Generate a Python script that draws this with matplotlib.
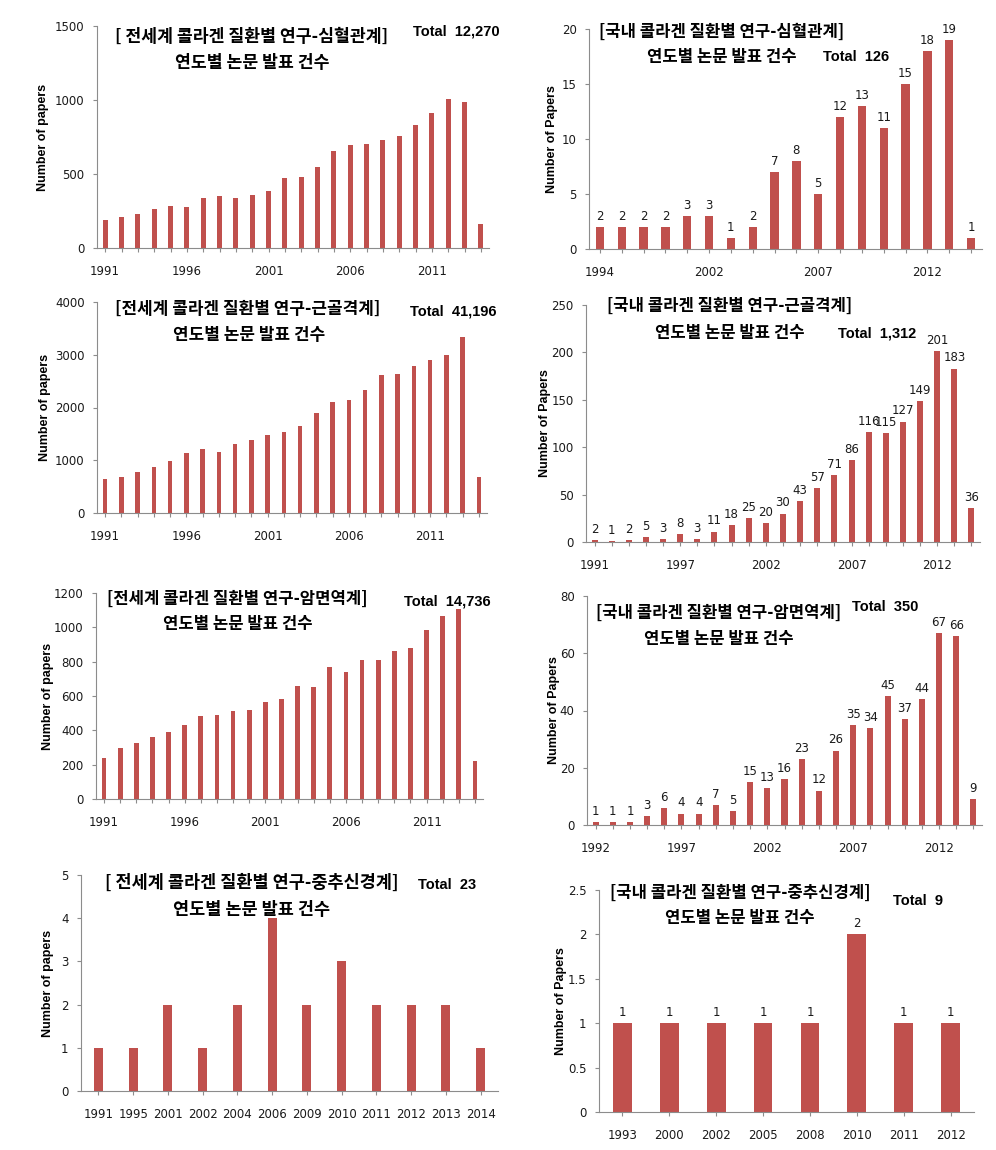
import numpy as np
import matplotlib
matplotlib.use('Agg')
import matplotlib.pyplot as plt
from matplotlib.ticker import FuncFormatter

plt.rcParams['font.family'] = ['DejaVu Sans']
KR = ['Noto Sans CJK KR', 'DejaVu Sans']
BAR = '#C0504D'
AXC = '#8C8C8C'

# ---- data ----
ww_years = ['1991', '1992', '1993', '1994', '1995', '1996', '1997', '1998', '1999', '2000',
            '2001', '2002', '2003', '2004', '2005', '2006', '2007', '2008', '2009', '2010',
            '2011', '2012', '2013', '2014']

cardio_world = [191, 211, 229, 263, 281, 279, 335, 348, 335, 360, 387, 472,
                481, 544, 656, 694, 706, 728, 757, 834, 910, 1005, 985, 160]
cardio_kr_years = ['1994', '1995', '1997', '1999', '2000', '2002', '2003', '2004', '2005',
                   '2006', '2007', '2008', '2009', '2010', '2011', '2012', '2013', '2014']
cardio_kr = [2, 2, 2, 2, 3, 3, 1, 2, 7, 8, 5, 12, 13, 11, 15, 18, 19, 1]

musc_world = [643, 687, 781, 876, 983, 1140, 1216, 1159, 1304, 1386, 1474, 1531,
              1644, 1896, 2104, 2142, 2331, 2614, 2627, 2778, 2898, 2986, 3332, 687]
musc_kr_years = ['1991', '1992', '1993', '1995', '1996', '1997', '1998', '1999', '2000',
                 '2001', '2002', '2003', '2004', '2005', '2006', '2007', '2008', '2009',
                 '2010', '2011', '2012', '2013', '2014']
musc_kr = [2, 1, 2, 5, 3, 8, 3, 11, 18, 25, 20, 30, 43, 57, 71, 86, 116, 115,
           127, 149, 201, 183, 36]

immu_world = [237, 297, 324, 363, 388, 429, 482, 487, 513, 517, 563, 581,
              658, 654, 767, 738, 808, 812, 860, 878, 983, 1064, 1105, 219]
immu_kr_years = ['1992', '1993', '1994', '1995', '1996', '1997', '1998', '1999', '2000',
                 '2001', '2002', '2003', '2004', '2005', '2006', '2007', '2008', '2009',
                 '2010', '2011', '2012', '2013', '2014']
immu_kr = [1, 1, 1, 3, 6, 4, 4, 7, 5, 15, 13, 16, 23, 12, 26, 35, 34, 45,
           37, 44, 67, 66, 9]

cns_world_years = ['1991', '1995', '2001', '2002', '2004', '2006', '2009', '2010',
                   '2011', '2012', '2013', '2014']
cns_world = [1, 1, 2, 1, 2, 4, 2, 3, 2, 2, 2, 1]
cns_kr_years = ['1993', '2000', '2002', '2005', '2008', '2010', '2011', '2012']
cns_kr = [1, 1, 1, 1, 1, 2, 1, 1]

titles = ['[ 전세계 콜라겐 질환별 연구-심혈관계]', '[국내 콜라겐 질환별 연구-심혈관계]',
          '[전세계 콜라겐 질환별 연구-근골격계]', '[국내 콜라겐 질환별 연구-근골격계]',
          '[전세계 콜라겐 질환별 연구-암면역계]', '[국내 콜라겐 질환별 연구-암면역계]',
          '[ 전세계 콜라겐 질환별 연구-중추신경계]', '[국내 콜라겐 질환별 연구-중추신경계]']
subtitle = '연도별 논문 발표 건수'
totals = ['Total  12,270', 'Total  126', 'Total  41,196', 'Total  1,312',
          'Total  14,736', 'Total  350', 'Total  23', 'Total  9']

W, H = 996, 1150
fig = plt.figure(figsize=(W / 100, H / 100), dpi=100)


def ftxt(x, y, s, **kw):
    fig.text(x / W, 1 - y / H, s, ha='center', va='center', **kw)


def panel(rect, cats, vals, ymax, ystep, width, ylab, ylab_x, every, labels=False):
    l, r, t, b = rect
    ax = fig.add_axes([l / W, 1 - b / H, (r - l) / W, (b - t) / H])
    x = np.arange(len(cats))
    ax.bar(x, vals, width=width, color=BAR)
    ax.set_xlim(-0.5, len(cats) - 0.5)
    ax.set_ylim(0, ymax)
    ax.set_yticks(np.arange(0, ymax + ystep / 2, ystep))
    ax.yaxis.set_major_formatter(FuncFormatter(lambda v, p: f'{v:g}'))
    ax.set_xticks(x)
    ax.set_xticklabels([c if i % every == 0 else '' for i, c in enumerate(cats)])
    for s in ['top', 'right']:
        ax.spines[s].set_visible(False)
    for s in ['left', 'bottom']:
        ax.spines[s].set_color(AXC)
        ax.spines[s].set_linewidth(0.8)
    ax.tick_params(colors=AXC, labelcolor='#1a1a1a', labelsize=8.5, length=3, width=0.8)
    ax.tick_params(axis='x', pad=9)
    ax.tick_params(axis='y', pad=6)
    ax.set_ylabel(ylab, fontweight='bold', fontsize=9, family='Liberation Sans', va='center')
    ax.yaxis.set_label_coords((ylab_x - l) / (r - l), 0.5)
    if labels:
        for xi, v in zip(x, vals):
            ax.annotate(str(v), (xi, v), xytext=(0, 3), textcoords='offset points',
                        ha='center', va='bottom', fontsize=8.5, color='#1a1a1a')
    return ax


panel((97, 489, 26, 248), ww_years, cardio_world, 1500, 500, 0.3, 'Number of papers', 43, 5)
panel((589, 982, 29, 249), cardio_kr_years, cardio_kr, 20, 5, 0.38, 'Number of Papers', 552, 5, True)
panel((97, 487, 302, 513), ww_years, musc_world, 4000, 1000, 0.29, 'Number of papers', 45, 5)
panel((586, 980, 305, 542), musc_kr_years, musc_kr, 250, 50, 0.35, 'Number of Papers', 545, 5, True)
panel((96, 483, 593, 799), ww_years, immu_world, 1200, 200, 0.29, 'Number of papers', 48, 5)
panel((587, 982, 596, 825), immu_kr_years, immu_kr, 80, 20, 0.35, 'Number of Papers', 554, 5, True)
panel((81, 498, 875, 1091), cns_world_years, cns_world, 5, 1, 0.26, 'Number of papers', 48, 1)
panel((599, 974, 890, 1112), cns_kr_years, cns_kr, 2.5, 0.5, 0.4, 'Number of Papers', 561, 1, True)

# titles: (title center x, y), (subtitle center x, y), (total center x, y), size
title_pos = [((252, 37), (252, 63), (456, 32), 12.4),
             ((722, 32), (722, 57), (856, 57), 12.0),
             ((248, 309), (249, 335), (453, 311), 12.2),
             ((730, 306), (730, 333), (877, 333), 12.0),
             ((237, 599), (238, 624), (447, 601), 12.0),
             ((719, 613), (719, 639), (885, 607), 12.0),
             ((252, 883), (252, 910), (447, 885), 12.6),
             ((740, 893), (740, 918), (918, 901), 12.0)]

for i, (p1, p2, p3, fs) in enumerate(title_pos):
    ftxt(*p1, titles[i], family=KR, fontweight='bold', fontsize=fs)
    ftxt(*p2, subtitle, family=KR, fontweight='bold', fontsize=fs)
    ftxt(*p3, totals[i], family='Liberation Sans', fontweight='bold', fontsize=10.5)

fig.savefig('out.png', dpi=100)
